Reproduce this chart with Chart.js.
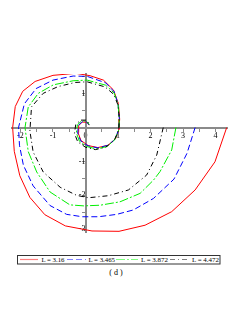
<!DOCTYPE html>
<html><head><meta charset="utf-8">
<script src="https://cdn.jsdelivr.net/npm/chart.js@4.4.1/dist/chart.umd.min.js"></script>
<style>
html,body{margin:0;padding:0;background:#fff;width:245px;height:327px;overflow:hidden;position:relative}
#wrap{position:absolute;left:0;top:0;width:245px;height:245px}
#leg{position:absolute;left:0;top:250px}
</style></head><body>
<div id="wrap"><canvas id="c"></canvas></div>
<svg id="leg" width="245" height="30" xmlns="http://www.w3.org/2000/svg">
<rect x="17.5" y="5.5" width="202.5" height="8.5" fill="none" stroke="#333" stroke-width="1"/>
<line x1="20" y1="9.5" x2="38" y2="9.5" stroke="#ff8080" stroke-width="1.2"/>
<text x="41.5" y="12.2" font-family="Liberation Serif" font-size="7" textLength="23" lengthAdjust="spacingAndGlyphs">L = 3.16</text>
<line x1="67" y1="9.5" x2="86" y2="9.5" stroke="#8080ff" stroke-width="1.2" stroke-dasharray="6,3"/>
<text x="88.5" y="12.2" font-family="Liberation Serif" font-size="7" textLength="26.5" lengthAdjust="spacingAndGlyphs">L = 3.465</text>
<line x1="116" y1="9.5" x2="138" y2="9.5" stroke="#80ff80" stroke-width="1.2" stroke-dasharray="9,2,2,2"/>
<text x="141" y="12.2" font-family="Liberation Serif" font-size="7" textLength="27" lengthAdjust="spacingAndGlyphs">L = 3.872</text>
<line x1="170" y1="9.5" x2="190" y2="9.5" stroke="#808080" stroke-width="1.2" stroke-dasharray="5,3,1,3"/>
<text x="192" y="12.2" font-family="Liberation Serif" font-size="7" textLength="27" lengthAdjust="spacingAndGlyphs">L = 4.472</text>
<text x="116" y="24.5" text-anchor="middle" font-family="Liberation Serif" font-size="8" fill="#000">( d )</text>
</svg>
<script>
const seriesNames = ['L = 3.16', 'L = 3.465', 'L = 3.872', 'L = 4.472'];
const red = [[4.34,0],[3.98,-1.01],[3.37,-1.84],[2.65,-2.48],[1.83,-2.88],[1.03,-3.06],[0.20,-3.05],[-0.62,-2.90],[-1.25,-2.57],[-1.71,-2.06],[-2.02,-1.42],[-2.19,-0.70],[-2.24,0.0],[-2.16,0.62],[-1.93,1.07],[-1.55,1.36],[-1.00,1.54],[-0.30,1.60],[0.14,1.53],[0.55,1.40],[0.86,1.11],[1.01,0.71],[1.05,0.25],[1.03,-0.05],[0.93,-0.32],[0.70,-0.52],[0.38,-0.59],[0.08,-0.53],[-0.14,-0.38],[-0.23,-0.15],[-0.21,0.06],[-0.10,0.16],[0.04,0.16],[0.11,0.07]];
const blue = [[3.37,0],[3.12,-0.76],[2.72,-1.52],[2.09,-2.09],[1.47,-2.43],[0.96,-2.56],[0.40,-2.63],[-0.10,-2.63],[-0.58,-2.56],[-1.09,-2.30],[-1.61,-1.72],[-1.91,-1.11],[-2.03,-0.52],[-2.06,0.0],[-1.88,0.70],[-1.52,1.15],[-1.00,1.40],[-0.38,1.52],[0.05,1.51],[0.62,1.32],[0.88,1.06],[1.00,0.70],[1.04,0.25],[1.02,-0.05],[0.92,-0.33],[0.70,-0.52],[0.38,-0.60],[0.08,-0.54],[-0.15,-0.39],[-0.24,-0.16],[-0.22,0.06],[-0.11,0.17],[0.03,0.17],[0.11,0.08]];
const green = [[2.78,0],[2.65,-0.66],[2.29,-1.30],[2.09,-1.55],[1.68,-1.94],[1.06,-2.19],[0.45,-2.29],[-0.05,-2.31],[-0.48,-2.28],[-1.09,-1.90],[-1.50,-1.31],[-1.76,-0.71],[-1.86,0.0],[-1.76,0.61],[-1.45,1.01],[-0.99,1.26],[-0.38,1.38],[0.05,1.40],[0.62,1.25],[0.88,1.02],[1.00,0.68],[1.04,0.25],[1.02,-0.07],[0.90,-0.36],[0.66,-0.56],[0.34,-0.63],[0.04,-0.56],[-0.19,-0.40],[-0.28,-0.16],[-0.25,0.08],[-0.12,0.20],[0.03,0.19],[0.12,0.09]];
const black = [[2.39,0],[2.19,-0.81],[1.88,-1.40],[1.32,-1.84],[0.70,-2.01],[0.09,-2.07],[-0.27,-2.00],[-0.78,-1.76],[-1.30,-1.31],[-1.61,-0.72],[-1.71,-0.10],[-1.66,0.61],[-1.30,1.01],[-0.84,1.21],[-0.32,1.33],[0.05,1.35],[0.60,1.20],[0.87,0.98],[1.00,0.66],[1.04,0.25],[1.02,-0.08],[0.88,-0.38],[0.62,-0.58],[0.30,-0.65],[0.00,-0.58],[-0.24,-0.42],[-0.34,-0.17],[-0.30,0.09],[-0.15,0.22],[0.02,0.22],[0.12,0.11]];
const xTicks = [-2,-1.5,-1,-0.5,0,0.5,1,1.5,2,2.5,3,3.5,4];
const yTicks = [-3,-2.5,-2,-1.5,-1,-0.5,0,0.5,1,1.5];

const toPts = a => a.map(p => ({x:p[0], y:p[1]}));
const styles = [
  {color:'#ff0000', dash:[]},
  {color:'#0000ff', dash:[6,3]},
  {color:'#00ee00', dash:[9,2,2,2]},
  {color:'#000000', dash:[5,3,1,3]}
];
const all = [red, blue, green, black];
const fontT = {family:'Liberation Serif', size:8};
const axisGray = '#8a8a8a';
new Chart(document.getElementById('c'), {
  type:'scatter',
  data:{datasets: all.map((d,i)=>({
    label: seriesNames[i], data: toPts(d), showLine:true, tension:0,
    borderColor: styles[i].color, borderDash: styles[i].dash, borderWidth:1,
    pointRadius:0, fill:false, order: 3-i
  }))},
  options:{
    animation:false, responsive:true, maintainAspectRatio:false,
    devicePixelRatio:1,
    layout:{padding:{left:12, right:18, top:74, bottom:13}},
    plugins:{legend:{display:false}, tooltip:{enabled:false}},
    scales:{
      x:{type:'linear', min:-2.26, max:4.35, position:{y:0},
        afterBuildTicks: s => { s.ticks = xTicks.map(v=>({value:v})); },
        grid:{drawOnChartArea:false, drawTicks:true, tickLength:3, color:axisGray, lineWidth:1},
        border:{display:true, color:axisGray, width:2},
        ticks:{font:fontT, color:'#000', padding:1, maxRotation:0, autoSkip:false,
          callback: v => Number.isInteger(v) ? String(v) : ''}
      },
      y:{type:'linear', min:-3.08, max:1.58, position:{x:0},
        afterBuildTicks: s => { s.ticks = yTicks.map(v=>({value:v})); },
        grid:{drawOnChartArea:false, drawTicks:true, tickLength:3, color:axisGray, lineWidth:1},
        border:{display:true, color:axisGray, width:2},
        ticks:{font:fontT, color:'#000', padding:2, autoSkip:false,
          callback: v => (Number.isInteger(v) && v !== 0) ? String(v) : ''}
      }
    }
  }
});
</script>
</body></html>
